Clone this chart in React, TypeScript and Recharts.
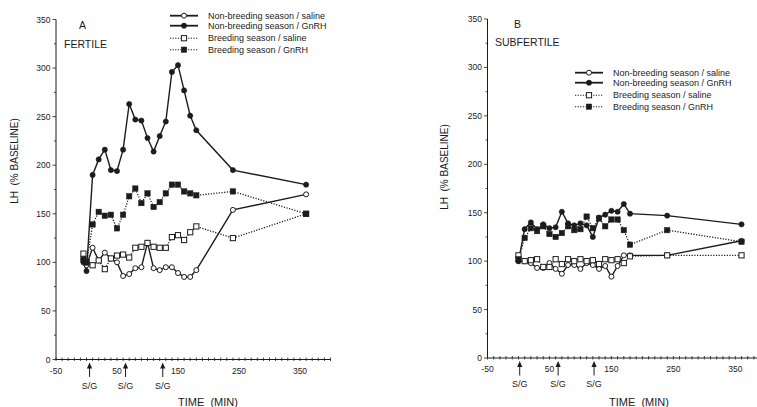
import React from 'react';
import { LineChart, Line, XAxis, YAxis, ReferenceDot } from 'recharts';

const FONT = '"Liberation Sans", Arial, Helvetica, sans-serif';
const INK = '#1c1c1c';

// ---- Panel A (FERTILE) ----
const LEFT_TIMES = [-5, 0, 10, 20, 30, 40, 50, 60, 70, 80, 90, 100, 110, 120, 130, 140, 150, 160, 170, 180, 240, 360];
const L_NB_SALINE = [103, 97, 115, 102, 110, 104, 100, 86, 88, 94, 95, 120, 94, 92, 95, 95, 89, 85, 85, 92, 154, 170];
const L_NB_GNRH = [100, 91, 190, 206, 216, 195, 194, 216, 263, 247, 246, 228, 214, 230, 245, 296, 303, 277, 251, 236, 195, 180];
const L_B_SALINE = [109, 100, 97, 102, 93, 104, 107, 108, 105, 115, 116, 120, 116, 115, 115, 126, 128, 123, 131, 137, 125, 150];
const L_B_GNRH = [103, 100, 139, 152, 148, 149, 135, 149, 168, 176, 161, 171, 157, 162, 171, 180, 180, 173, 171, 169, 173, 150];
const LEFT_ARROWS = [5, 64, 125];

// ---- Panel B (SUBFERTILE) ----
const RIGHT_TIMES = [0, 10, 20, 30, 40, 50, 60, 70, 80, 90, 100, 110, 120, 130, 140, 150, 160, 170, 180, 240, 360];
const R_NB_SALINE = [100, 100, 98, 93, 93, 98, 92, 87, 96, 96, 92, 98, 96, 92, 95, 84, 95, 106, 106, 106, 121];
const R_NB_GNRH = [100, 133, 140, 133, 138, 134, 135, 151, 139, 137, 139, 137, 125, 145, 148, 152, 151, 159, 149, 147, 138];
const R_B_SALINE = [106, 100, 101, 102, 94, 94, 102, 97, 102, 100, 102, 100, 101, 97, 102, 101, 102, 98, 105, 106, 106];
const R_B_GNRH = [102, 124, 134, 131, 136, 128, 125, 129, 136, 132, 133, 146, 134, 144, 136, 143, 143, 132, 117, 132, 120];
const RIGHT_ARROWS = [2, 64, 122];

// ---- Axes ----
const X_TICK_LABELS = [-50, 50, 150, 250, 350];
const Y_TICK_LABELS = [0, 50, 100, 150, 200, 250, 300, 350];
const ARROW_LABEL = 'S/G';

const SERIES = [
  { key: 'nbSaline', name: 'Non-breeding season / saline', dotted: false, marker: 'oc' },
  { key: 'nbGnrh', name: 'Non-breeding season / GnRH', dotted: false, marker: 'fc' },
  { key: 'bSaline', name: 'Breeding season / saline', dotted: true, marker: 'os' },
  { key: 'bGnrh', name: 'Breeding season / GnRH', dotted: true, marker: 'fs' },
];

const leftData = LEFT_TIMES.map((t, i) => ({
  t,
  nbSaline: L_NB_SALINE[i],
  nbGnrh: L_NB_GNRH[i],
  bSaline: L_B_SALINE[i],
  bGnrh: L_B_GNRH[i],
}));
const rightData = RIGHT_TIMES.map((t, i) => ({
  t,
  nbSaline: R_NB_SALINE[i],
  nbGnrh: R_NB_GNRH[i],
  bSaline: R_B_SALINE[i],
  bGnrh: R_B_GNRH[i],
}));

function markerEl(kind: string, cx: number, cy: number, key?: any) {
  if (kind === 'oc') return <circle key={key} cx={cx} cy={cy} r={2.5} fill="#fff" stroke={INK} strokeWidth={1} />;
  if (kind === 'fc') return <circle key={key} cx={cx} cy={cy} r={2.6} fill={INK} stroke={INK} strokeWidth={0.6} />;
  if (kind === 'os') return <rect key={key} x={cx - 2.6} y={cy - 2.6} width={5.2} height={5.2} fill="#fff" stroke={INK} strokeWidth={1} />;
  return <rect key={key} x={cx - 2.7} y={cy - 2.7} width={5.4} height={5.4} fill={INK} stroke={INK} strokeWidth={0.5} />;
}

function minorTicks(lo: number, hi: number, step: number) {
  const out: number[] = [];
  for (let v = lo; v <= hi + 1e-9; v += step) out.push(v);
  return out;
}

const XTick = (props: any) => {
  const { x, y, payload } = props;
  const v = payload.value;
  const major = X_TICK_LABELS.includes(v);
  return (
    <g>
      <line x1={x} x2={x} y1={y - 2} y2={y + 1.5} stroke={INK} strokeWidth={0.8} />
      {major && (
        <text x={x} y={y + 14} textAnchor="middle" fontSize={8.5} fill={INK} fontFamily={FONT}>
          {v}
        </text>
      )}
    </g>
  );
};

const YTick = (props: any) => {
  const { x, y, payload } = props;
  const v = payload.value;
  const major = Y_TICK_LABELS.includes(v);
  return (
    <g>
      <line x1={x - (major ? 3.5 : 2)} x2={x} y1={y} y2={y} stroke={INK} strokeWidth={0.8} />
      {major && (
        <text x={x - 5.5} y={y + 3} textAnchor="end" fontSize={8.5} fill={INK} fontFamily={FONT}>
          {v}
        </text>
      )}
    </g>
  );
};

const arrowShape = (p: any) => {
  const { cx, cy } = p;
  return (
    <g>
      <line x1={cx} x2={cx} y1={cy + 8} y2={cy + 17.5} stroke={INK} strokeWidth={1} />
      <path d={`M${cx},${cy + 3} L${cx - 2.6},${cy + 9} L${cx + 2.6},${cy + 9} Z`} fill={INK} />
      <text x={cx} y={cy + 29} textAnchor="middle" fontSize={9} fill={INK} fontFamily={FONT}>
        {ARROW_LABEL}
      </text>
    </g>
  );
};

type PanelProps = {
  left: number;
  width: number;
  data: any[];
  xDomain: [number, number];
  margin: { top: number; right: number; bottom: number; left: number };
  arrows: number[];
};

function Panel({ left, width, data, xDomain, margin, arrows }: PanelProps) {
  const xt = minorTicks(-50, xDomain[1], 10);
  const yt = minorTicks(0, 350, 25);
  return (
    <div style={{ position: 'absolute', left, top: 0, width, height: 407 }}>
      <LineChart width={width} height={407} data={data} margin={margin} style={{ overflow: 'visible' }}>
        <XAxis
          dataKey="t"
          type="number"
          domain={xDomain}
          ticks={xt}
          interval={0}
          height={1}
          tickSize={0}
          tickMargin={0}
          tickLine={false}
          axisLine={{ stroke: INK, strokeWidth: 1 }}
          tick={(p: any) => <XTick {...p} />}
          allowDataOverflow
        />
        <YAxis
          type="number"
          domain={[0, 350]}
          ticks={yt}
          interval={0}
          width={1}
          tickSize={0}
          tickMargin={0}
          tickLine={false}
          axisLine={{ stroke: INK, strokeWidth: 1 }}
          tick={(p: any) => <YTick {...p} />}
        />
        {SERIES.map((s) => (
          <Line
            key={s.key}
            dataKey={s.key}
            name={s.name}
            type="linear"
            stroke={INK}
            strokeWidth={s.dotted ? 1.3 : 1.4}
            strokeDasharray={s.dotted ? '1.2 1.5' : undefined}
            isAnimationActive={false}
            dot={(p: any) => markerEl(s.marker, p.cx, p.cy, `${s.key}-${p.index}`)}
            activeDot={false}
          />
        ))}
        {arrows.map((a, i) => (
          <ReferenceDot key={`ar${i}`} x={a} y={0} r={0} ifOverflow="visible" shape={arrowShape} />
        ))}
      </LineChart>
    </div>
  );
}

function LegendBlock({ x, y }: { x: number; y: number }) {
  const rowOffsets = [0, 10, 22.5, 34];
  return (
    <g>
      {SERIES.map((s, i) => {
        const ry = y + rowOffsets[i];
        return (
          <g key={s.key}>
            <line
              x1={x}
              x2={x + 28}
              y1={ry}
              y2={ry}
              stroke={INK}
              strokeWidth={s.dotted ? 1.1 : 1.8}
              strokeDasharray={s.dotted ? '1.2 1.4' : undefined}
            />
            {markerEl(s.marker, x + 14, ry)}
            <text x={x + 38} y={ry + 3.2} fontSize={9} fill={INK} fontFamily={FONT}>
              {s.name}
            </text>
          </g>
        );
      })}
    </g>
  );
}

export default function App() {
  return (
    <div
      style={{
        position: 'absolute',
        left: 0,
        top: 0,
        width: 757,
        height: 407,
        overflow: 'hidden',
        background: '#fff',
        fontFamily: FONT,
      }}
    >
      <Panel
        left={0}
        width={340}
        data={leftData}
        xDomain={[-50, 400]}
        margin={{ top: 19.5, right: 9.5, bottom: 46.5, left: 55 }}
        arrows={LEFT_ARROWS}
      />
      <Panel
        left={380}
        width={377}
        data={rightData}
        xDomain={[-50, 385]}
        margin={{ top: 19, right: 0, bottom: 48, left: 106.5 }}
        arrows={RIGHT_ARROWS}
      />
      <svg
        width={757}
        height={407}
        style={{ position: 'absolute', left: 0, top: 0, pointerEvents: 'none' }}
      >
        <g fontFamily={FONT} fill={INK}>
          <text x={79} y={29} fontSize={10.5}>A</text>
          <text x={64} y={48} fontSize={10.5}>FERTILE</text>
          <text x={514} y={28} fontSize={10.5}>B</text>
          <text x={495} y={46} fontSize={10.5}>SUBFERTILE</text>
          <text x={14} y={161} fontSize={10} textAnchor="middle" dominantBaseline="central" transform="rotate(-90 14 161)">
            {'LH\u00A0 (% BASELINE)'}
          </text>
          <text x={444} y={167} fontSize={10} textAnchor="middle" dominantBaseline="central" transform="rotate(-90 444 167)">
            {'LH\u00A0 (% BASELINE)'}
          </text>
          <text x={208} y={406} fontSize={11} textAnchor="middle">{'TIME\u00A0 (MIN)'}</text>
          <text x={639} y={406} fontSize={11} textAnchor="middle">{'TIME\u00A0 (MIN)'}</text>
        </g>
        <LegendBlock x={170} y={15.7} />
        <LegendBlock x={575} y={72.7} />
      </svg>
    </div>
  );
}
